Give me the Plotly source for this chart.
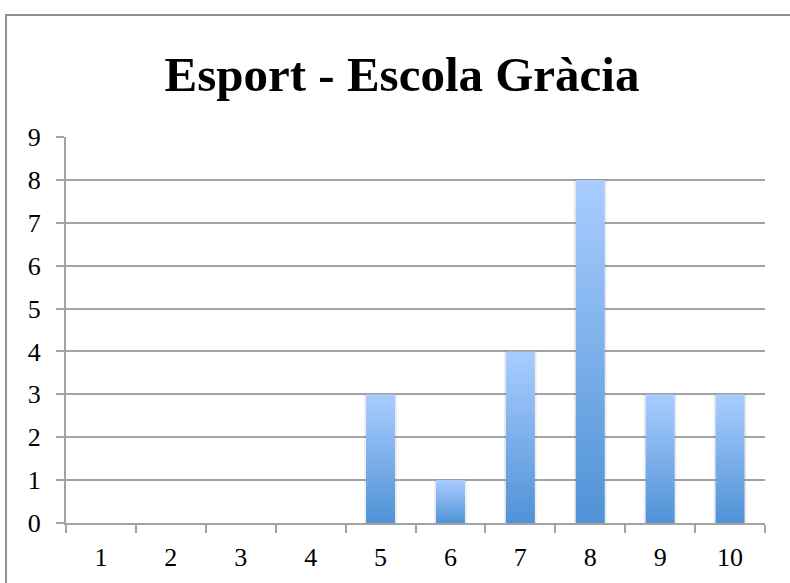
import plotly.graph_objects as go

# Scores (1-10) and number of pupils per score
categories = [1, 2, 3, 4, 5, 6, 7, 8, 9, 10]
counts = [0, 0, 0, 0, 3, 1, 4, 8, 3, 3]
y_ticks = [0, 1, 2, 3, 4, 5, 6, 7, 8, 9]
title_text = "Esport - Escola Gràcia"

BAR_W = 0.415
SHADOW_W = 0.47
grad = [[0, "#4F92D6"], [1, "#AACDFF"]]

fig = go.Figure()

for c, v in zip(categories, counts):
    if v <= 0:
        continue
    # faint shadow behind each bar
    sx = [c - SHADOW_W / 2, c + SHADOW_W / 2, c + SHADOW_W / 2, c - SHADOW_W / 2, c - SHADOW_W / 2]
    sy = [0, 0, v + 0.02, v + 0.02, 0]
    fig.add_trace(go.Scatter(
        x=sx, y=sy, mode="lines", fill="toself",
        fillcolor="rgba(0,0,0,0.07)", line=dict(width=0),
        hoverinfo="skip", showlegend=False,
    ))
    # bar with a vertical gradient (dark bottom, light top)
    bx = [c - BAR_W / 2, c + BAR_W / 2, c + BAR_W / 2, c - BAR_W / 2, c - BAR_W / 2]
    by = [0, 0, v, v, 0]
    fig.add_trace(go.Scatter(
        x=bx, y=by, mode="lines", fill="toself",
        fillgradient=dict(type="vertical", colorscale=grad),
        line=dict(width=0), name=str(c),
        hovertemplate=f"{c}: {v}<extra></extra>", showlegend=False,
    ))

grid_col = "#A3A3A3"

# outer chart frame: left and top edges only (the rest runs past the page)
fx0 = (6 - 66) / 699
fx1 = (790 - 66) / 699
fy0 = (523 - 600) / 386
fy1 = (523 - 15) / 386
frame_path = f"M {fx0},{fy0} L {fx0},{fy1} L {fx1},{fy1}"

fig.update_layout(
    width=790, height=583,
    margin=dict(l=66, r=25, t=137, b=60),
    paper_bgcolor="white", plot_bgcolor="white",
    font=dict(family="Liberation Serif", color="black"),
    title=dict(
        text=f"<b>{title_text}</b>",
        font=dict(family="Liberation Serif", size=49, color="black"),
        x=402 / 790, xanchor="center",
        y=1 - 74 / 583, yanchor="middle", yref="container",
    ),
    xaxis=dict(
        range=[0.5, 10.5], tickvals=categories,
        ticktext=[str(c) for c in categories],
        ticks="", showgrid=False, zeroline=False,
        showline=True, linecolor=grid_col, linewidth=2,
        tickfont=dict(size=26), ticklabelstandoff=10,
        minor=dict(
            tickvals=[c + 0.5 for c in [0] + categories],
            ticks="outside", ticklen=8, tickcolor=grid_col, tickwidth=2,
            showgrid=False,
        ),
        fixedrange=True,
    ),
    yaxis=dict(
        range=[0, 9], tickvals=y_ticks,
        ticks="outside", ticklen=8, tickcolor=grid_col, tickwidth=2,
        showgrid=True, gridcolor=grid_col, gridwidth=2,
        zeroline=False, showline=True, linecolor=grid_col, linewidth=2,
        tickfont=dict(size=26), ticklabelstandoff=10,
        fixedrange=True,
    ),
    shapes=[
        dict(type="path", xref="paper", yref="paper", path=frame_path,
             line=dict(color="#8F8F8F", width=2), layer="below"),
    ],
)

fig.write_html("out.html")
